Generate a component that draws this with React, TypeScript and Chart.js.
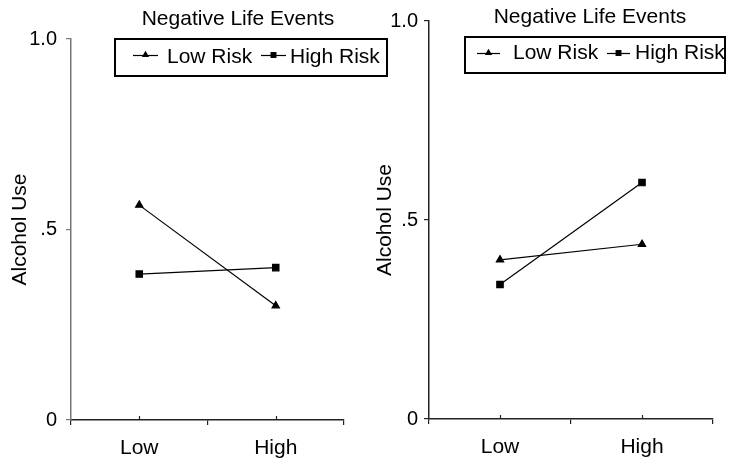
import React, { useEffect, useRef } from 'react';
import { Chart, registerables } from 'chart.js';

Chart.register(...registerables);

const categories = ['Low', 'High'];
const seriesNames = ['Low Risk', 'High Risk'];
const leftLowRisk = [0.564, 0.3];
const leftHighRisk = [0.383, 0.4];
const rightLowRisk = [0.4, 0.439];
const rightHighRisk = [0.338, 0.594];
const yTickValues = [0, 0.5, 1];
const yTickLabels = ['0', '.5', '1.0'];
const panelTitle = 'Negative Life Events';
const yAxisTitle = 'Alcohol Use';

const FONT = '"Liberation Sans", Arial, Helvetica, sans-serif';

type Panel = {
  low: number[];
  high: number[];
  padding: { left: number; right: number; top: number; bottom: number };
  yWidth: number;
  xHeight: number;
  yTickPad: number;
  yTitlePad: number;
  yBorder: string;
  titleX: number;
  titleY: number;
  legend: { x: number; y: number; w: number; h: number; samples: number[]; texts: number[]; textY: number; sampleY: number; sampleLen: number };
};

const panels: Panel[] = [
  {
    low: leftLowRisk,
    high: leftHighRisk,
    padding: { left: 0, right: 386, top: 39, bottom: 0 },
    yWidth: 71,
    xHeight: 42,
    yTickPad: 9,
    yTitlePad: 9.5,
    yBorder: '#777',
    titleX: 238,
    titleY: 19,
    legend: { x: 115, y: 39, w: 272, h: 37, samples: [133, 261], texts: [167, 290], textY: 57, sampleY: 55, sampleLen: 25 },
  },
  {
    low: rightLowRisk,
    high: rightHighRisk,
    padding: { left: 369, right: 17, top: 21, bottom: 0 },
    yWidth: 60,
    xHeight: 43,
    yTickPad: 6,
    yTitlePad: 5.5,
    yBorder: '#222',
    titleX: 590,
    titleY: 17.5,
    legend: { x: 465, y: 37, w: 260, h: 36, samples: [477, 607], texts: [513, 635], textY: 53.5, sampleY: 53, sampleLen: 23 },
  },
];

function drawMarker(ctx: CanvasRenderingContext2D, style: string, x: number, y: number, r: number) {
  ctx.beginPath();
  if (style === 'triangle') {
    ctx.moveTo(x, y - r);
    ctx.lineTo(x + r * 0.866, y + r * 0.5);
    ctx.lineTo(x - r * 0.866, y + r * 0.5);
    ctx.closePath();
  } else {
    const s = r * Math.SQRT1_2;
    ctx.rect(x - s, y - s, 2 * s, 2 * s);
  }
  ctx.fill();
}

function makeChart(canvas: HTMLCanvasElement, p: Panel) {
  const styles = ['triangle', 'rect'];
  const overlay = {
    id: 'overlay',
    afterDraw(chart: any) {
      const ctx: CanvasRenderingContext2D = chart.ctx;
      ctx.save();
      const xs = chart.scales.x;
      ctx.strokeStyle = '#222';
      ctx.lineWidth = 1.2;
      categories.forEach((_, i) => {
        const px = Math.round(xs.getPixelForValue(i)) + 0.5;
        ctx.beginPath();
        ctx.moveTo(px, xs.top);
        ctx.lineTo(px, xs.top - 4);
        ctx.stroke();
      });
      ctx.fillStyle = '#000';
      ctx.font = `21px ${FONT}`;
      ctx.textAlign = 'center';
      ctx.textBaseline = 'middle';
      ctx.fillText(panelTitle, p.titleX, p.titleY);
      const L = p.legend;
      ctx.lineWidth = 2;
      ctx.strokeStyle = '#000';
      ctx.strokeRect(L.x, L.y, L.w, L.h);
      ctx.textAlign = 'left';
      chart.data.datasets.forEach((ds: any, i: number) => {
        const sx = L.samples[i];
        ctx.lineWidth = 1.2;
        ctx.beginPath();
        ctx.moveTo(sx, L.sampleY + 0.5);
        ctx.lineTo(sx + L.sampleLen, L.sampleY + 0.5);
        ctx.stroke();
        ctx.fillStyle = '#000';
        drawMarker(ctx, styles[i], sx + L.sampleLen / 2, L.sampleY, 4.2);
        ctx.fillText(ds.label, L.texts[i], L.textY);
      });
      ctx.restore();
    },
  };

  return new Chart(canvas, {
    type: 'line',
    data: {
      labels: categories,
      datasets: [
        {
          label: seriesNames[0],
          data: p.low,
          borderColor: '#000',
          backgroundColor: '#000',
          borderWidth: 1.2,
          pointStyle: 'triangle',
          pointRadius: 4.2,
          tension: 0,
        },
        {
          label: seriesNames[1],
          data: p.high,
          borderColor: '#000',
          backgroundColor: '#000',
          borderWidth: 1.2,
          pointStyle: 'rect',
          pointRadius: 4.5,
          tension: 0,
        },
      ],
    },
    options: {
      responsive: false,
      animation: false,
      devicePixelRatio: 1,
      layout: { padding: p.padding },
      plugins: {
        legend: { display: false },
        title: { display: false },
        tooltip: { enabled: false },
      },
      scales: {
        x: {
          type: 'category',
          offset: true,
          grid: { display: true, drawOnChartArea: false, drawTicks: true, tickLength: 5, offset: true, color: '#222', lineWidth: 1.2 },
          border: { display: true, color: '#222', width: 1.5 },
          ticks: { color: '#000', font: { size: 21, family: FONT }, padding: 11, maxRotation: 0 },
          afterFit: (s: any) => { s.height = p.xHeight; },
        },
        y: {
          type: 'linear',
          min: 0,
          max: 1,
          afterBuildTicks: (s: any) => { s.ticks = yTickValues.map((v) => ({ value: v })); },
          grid: { display: true, drawOnChartArea: false, drawTicks: true, tickLength: 5, color: p.yBorder, lineWidth: 1.2 },
          border: { display: true, color: p.yBorder, width: 1.5 },
          ticks: {
            color: '#000',
            font: { size: 20, family: FONT },
            padding: p.yTickPad,
            callback: (v: any) => yTickLabels[yTickValues.indexOf(Number(v))] ?? '',
          },
          title: {
            display: true,
            text: yAxisTitle,
            color: '#000',
            font: { size: 21, family: FONT, lineHeight: 1 },
            padding: { top: p.yTitlePad, bottom: 0 },
          },
          afterFit: (s: any) => { s.width = p.yWidth; },
        },
      },
    },
    plugins: [overlay],
  });
}

function PanelChart({ panel }: { panel: Panel }) {
  const ref = useRef<HTMLCanvasElement | null>(null);
  useEffect(() => {
    if (!ref.current) return;
    const c = makeChart(ref.current, panel);
    return () => c.destroy();
  }, [panel]);
  return (
    <canvas
      ref={ref}
      width={730}
      height={462}
      style={{ position: 'absolute', left: 0, top: 0, width: 730, height: 462 }}
    />
  );
}

export default function App() {
  return (
    <div style={{ position: 'fixed', left: 0, top: 0, width: 730, height: 462, background: '#fff', overflow: 'hidden' }}>
      {panels.map((p, i) => (
        <PanelChart key={i} panel={p} />
      ))}
    </div>
  );
}
